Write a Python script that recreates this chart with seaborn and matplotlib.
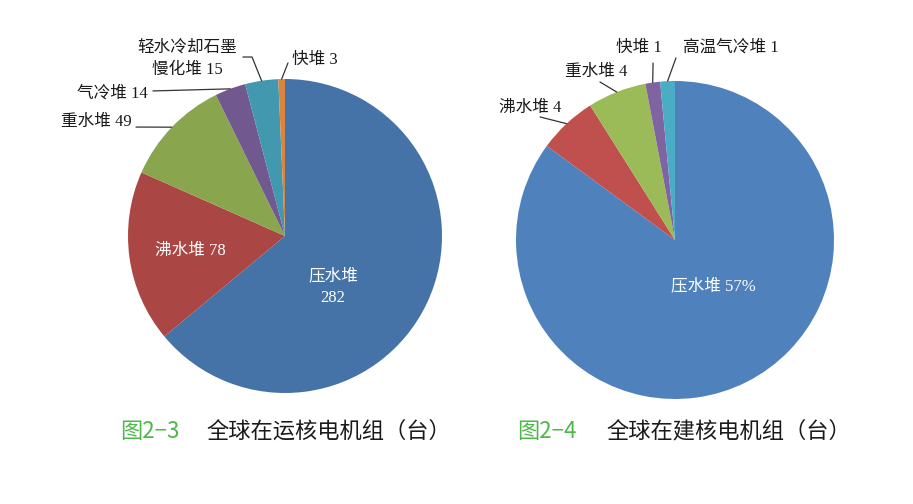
import numpy as np
import seaborn as sns
from matplotlib import pyplot as plt

# 数据
left_names = ['压水堆', '沸水堆', '重水堆', '气冷堆', '轻水冷却石墨慢化堆', '快堆']
left_values = [282, 78, 49, 14, 15, 3]
left_colors = ['#4572a7', '#aa4643', '#89a54e', '#71588f', '#4198af', '#db843d']

right_names = ['压水堆', '沸水堆', '重水堆', '快堆', '高温气冷堆']
right_values = [57, 4, 4, 1, 1]
right_colors = ['#4f81bd', '#c0504d', '#9bbb59', '#8064a2', '#4bacc6']

captions = [('图2−3', '全球在运核电机组（台）'), ('图2−4', '全球在建核电机组（台）')]

sns.set_theme(style='white')
plt.rcParams['font.family'] = ['Liberation Serif', 'Noto Sans CJK SC']
LABEL_FONT = ['Liberation Serif', 'Noto Sans CJK SC']
CAP_FONT = ['Noto Sans CJK SC', 'DejaVu Sans']

left_texts = ['压水堆\n282', '沸水堆 78', '重水堆 49', '气冷堆 14', '轻水冷却石墨\n慢化堆 15', '快堆 3']
right_texts = ['压水堆 57%', '沸水堆 4', '重水堆 4', '快堆 1', '高温气冷堆 1']

# 标签布局: (x, y, ha, 是否白字, 引线起点)
left_layout = [
    (0.306, -0.325, 'center', True, None),
    (-0.605, -0.096, 'center', True, None),
    (-0.975, 0.726, 'right', False, [(-0.949, 0.694)]),
    (-0.873, 0.904, 'right', False, [(-0.841, 0.924)]),
    (-0.624, 1.127, 'center', False, [(-0.268, 1.140), (-0.210, 1.140)]),
    (0.045, 1.121, 'left', False, [(0.019, 1.102)]),
]
right_layout = [
    (0.239, -0.289, 'center', True, None),
    (-0.909, 0.830, 'center', False, [(-0.849, 0.774)]),
    (-0.497, 1.057, 'center', False, [(-0.472, 0.994)]),
    (-0.082, 1.208, 'right', False, [(-0.138, 1.113)]),
    (0.050, 1.208, 'left', False, [(0.006, 1.145)]),
]

fig = plt.figure(figsize=(9.13, 5.04), dpi=100)
ax1 = fig.add_axes([128 / 913, 111 / 504, 314 / 913, 314 / 504])
ax2 = fig.add_axes([516 / 913, 105 / 504, 318 / 913, 318 / 504])


def draw_pie(ax, values, colors, texts, layout):
    wedges, _ = ax.pie(values, colors=colors, startangle=90, counterclock=False,
                       wedgeprops=dict(linewidth=0))
    for w, txt, (x, y, ha, inside, pts) in zip(wedges, texts, layout):
        ax.text(x, y, txt, ha=ha, va='center', fontsize=12, family=LABEL_FONT,
                color='white' if inside else '#1a1a1a', linespacing=1.5,
                clip_on=False)
        if pts:
            mid = np.deg2rad((w.theta1 + w.theta2) / 2)
            xs = [p[0] for p in pts] + [w.r * np.cos(mid)]
            ys = [p[1] for p in pts] + [w.r * np.sin(mid)]
            ax.plot(xs, ys, color='#333333', lw=0.9, clip_on=False)
    ax.set_xlim(-1, 1)
    ax.set_ylim(-1, 1)
    ax.axis('off')


draw_pie(ax1, left_values, left_colors, left_texts, left_layout)
draw_pie(ax2, right_values, right_colors, right_texts, right_layout)

# 图题
cap_pos = [(120, 206), (517, 606)]
for (num, title), (x0, x1) in zip(captions, cap_pos):
    fig.text(x0 / 913, 1 - 431 / 504, num, color='#4db848', fontsize=16,
             family=CAP_FONT, ha='left', va='center')
    fig.text(x1 / 913, 1 - 431 / 504, title, color='#1a1a1a', fontsize=16,
             family=CAP_FONT, ha='left', va='center')

fig.savefig('out.png', dpi=100, facecolor='white')
